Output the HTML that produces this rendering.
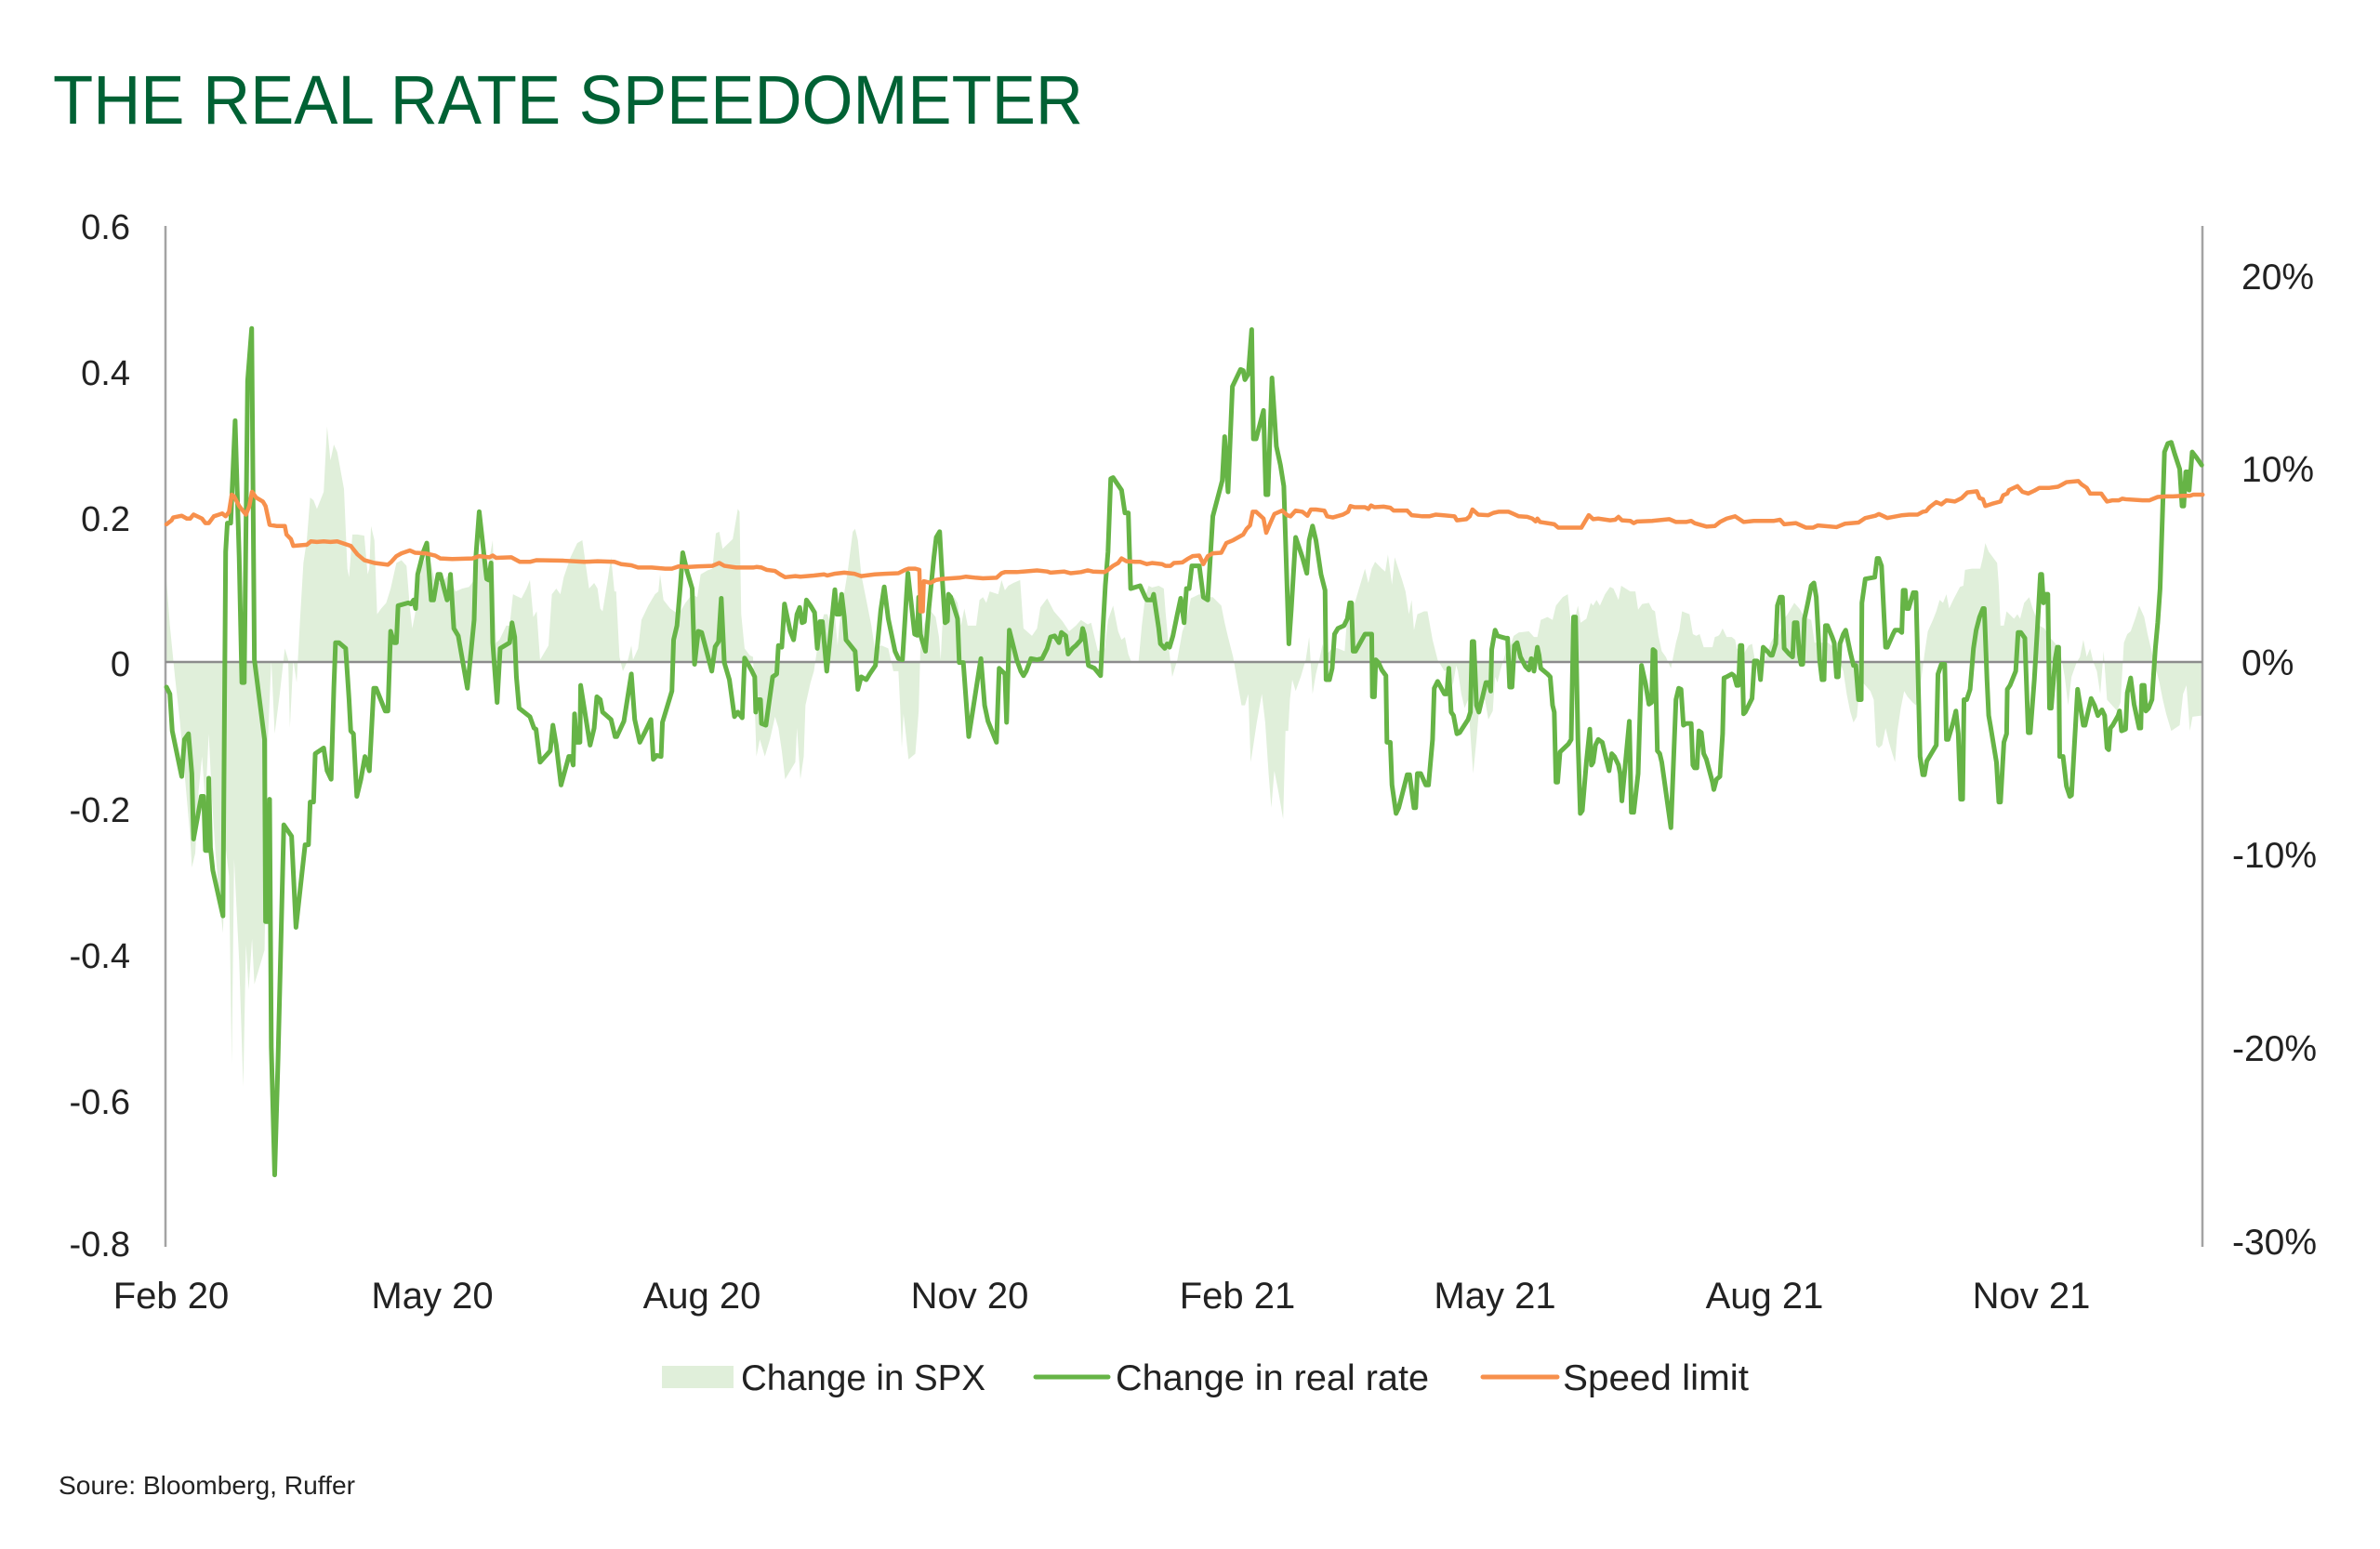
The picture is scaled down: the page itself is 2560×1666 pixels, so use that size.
<!DOCTYPE html>
<html>
<head>
<meta charset="utf-8">
<style>
html,body{margin:0;padding:0;background:#fff;}
svg{display:block;}
text{font-family:"Liberation Sans",Arial,sans-serif;}
</style>
</head>
<body>
<svg width="2560" height="1666" viewBox="0 0 2560 1666" xmlns="http://www.w3.org/2000/svg">
<rect x="0" y="0" width="2560" height="1666" fill="#ffffff"/>

<!-- Title -->
<text x="57" y="133" font-size="74" fill="#006134" textLength="1108" lengthAdjust="spacingAndGlyphs">THE REAL RATE SPEEDOMETER</text>

<!-- Data layer -->
<svg x="170" y="330" width="2250" height="960" viewBox="0 0 6187.5 1568" preserveAspectRatio="none" overflow="visible">
  <!-- Change in SPX area -->
  <path fill="#e0efda" stroke="none" d="M25,623 L25,480 35,560 50,650 65,730 80,830 95,930 100,985 110,960 120,850 130,790 140,870 150,750 160,870 170,960 185,1060 192,1100 200,950 210,1000 218,1330 225,970 240,1150 252,1370 260,1120 268,1200 278,1110 285,1190 300,1160 315,1130 325,760 335,620 345,750 360,680 375,600 385,620 390,740 400,620 410,660 420,550 430,450 440,410 450,335 460,340 470,355 490,325 500,210 510,270 520,242 530,255 550,320 560,460 565,475 575,400 590,400 610,402 620,470 625,460 630,385 640,410 648,540 660,530 675,520 688,495 705,450 720,445 735,455 745,530 752,565 760,540 780,455 800,430 820,485 840,485 860,470 880,500 900,495 920,492 935,480 945,440 960,430 975,460 990,410 1000,590 1010,585 1030,560 1040,560 1050,505 1060,508 1075,512 1090,495 1100,480 1110,545 1120,535 1130,620 1140,610 1155,595 1165,505 1178,495 1190,505 1200,475 1220,440 1240,415 1255,410 1275,495 1290,485 1300,495 1308,530 1315,535 1330,480 1340,440 1350,500 1355,500 1365,615 1375,640 1390,620 1400,595 1405,620 1420,600 1430,550 1450,525 1470,505 1480,500 1485,470 1495,515 1515,530 1540,540
  1560,520 1580,505 1595,510 1605,470 1625,463 1640,460 1650,398 1660,395 1670,425 1700,408 1715,355 1720,360 1725,540 1735,600 1750,612 1760,615 1765,700 1770,790 1780,760 1795,790 1810,760 1825,720 1835,740 1845,780 1855,830 1885,800 1890,740 1900,830 1910,790 1915,700 1930,660 1940,640 1950,600 1960,560 1970,540 1980,540 1990,560 2002,540 2010,595 2015,560 2025,520 2040,465 2055,395 2062,390 2070,410 2080,470 2095,515 2110,560 2120,600 2140,595 2160,600 2175,640 2190,640 2195,700 2200,775 2205,715 2210,740 2220,795 2240,785 2250,710 2255,600 2265,560 2280,530 2300,545 2310,580 2315,620 2320,560 2335,545 2355,510 2365,520 2375,560 2385,530 2395,560 2420,560 2430,515 2440,510 2450,520 2460,500 2485,505 2495,480 2505,498 2515,490 2530,485 2550,480 2560,565 2570,570 2585,578 2600,565 2610,528 2630,512 2650,535 2675,552 2695,570 2715,560 2730,550 2750,558 2760,555 2780,605 2800,600 2810,550 2825,525 2840,570 2850,585 2860,580 2870,610 2880,625 2900,625 2910,560 2920,510 2930,490 2940,493 2960,490 2975,495 2980,535 2990,600 3000,650 3015,620 3030,570 3040,555 3055,512 3080,505
  3100,510 3120,510 3145,525 3155,555 3165,580 3180,615 3190,650 3205,700 3215,700 3225,680 3232,800 3240,770 3250,730 3265,680 3275,730 3285,820 3293,880 3302,815 3315,855 3328,900 3335,745 3343,745 3348,690 3355,655 3365,675 3380,650 3395,620 3405,580 3415,680 3425,645 3435,620 3445,592 3450,610 3458,610 3475,598 3490,600 3510,605 3520,525 3530,520 3540,520 3550,500 3570,460 3580,485 3590,460 3600,448 3620,460 3630,465 3638,435 3650,488 3658,440 3680,480 3690,500 3700,540 3708,515 3715,568 3725,540 3745,535 3755,535 3770,585 3785,620 3795,630 3805,640 3820,635 3830,665 3840,630 3845,640 3850,660 3855,680 3865,705 3875,690 3890,820 3900,760 3910,690 3925,690 3935,725 3948,710 3955,650 3962,660 3970,640 3980,620 3990,600 4000,595 4010,578 4025,572 4055,570 4070,580 4080,580 4090,550 4110,545 4125,550 4135,525 4155,510 4170,505 4180,560 4192,545 4200,525 4208,555 4225,548 4238,520 4245,525 4255,515 4265,525 4280,505 4295,492 4305,495 4320,515 4328,490 4355,500 4370,500 4378,532 4390,522 4410,520 4420,532 4428,535 4438,578 4448,605 4460,615 4475,635 4480,620 4490,590 4500,568 4508,535 4530,540 4540,575 4550,578 4560,575 4572,598 4598,598 4605,580 4615,578 4620,575
  4628,565 4640,580 4655,580 4665,585 4670,600 4680,605 4690,610 4705,595 4715,592 4725,625 4740,635 4760,610 4770,590 4780,580 4795,575 4810,548 4820,540 4830,530 4840,520 4855,530 4870,545 4890,550 4900,590 4915,590 4940,590 4960,600 4975,625 4985,640 4995,680 5005,710 5015,730 5025,720 5035,655 5050,665 5065,675 5075,690 5082,770 5090,775 5100,770 5110,740 5120,765 5130,785 5138,800 5145,745 5155,705 5165,675 5175,685 5190,695 5200,700 5210,680 5225,610 5235,570 5250,550 5260,535 5270,515 5280,520 5290,505 5298,530 5310,515 5330,492 5340,490 5345,462 5365,460 5390,460 5398,440 5405,415 5415,430 5440,450 5445,490 5450,560 5460,560 5468,535 5490,548 5500,540 5508,548 5520,520 5535,510 5545,530 5565,560 5580,565 5595,580 5610,590 5625,600 5640,650 5650,700 5660,650 5675,625 5685,615 5695,585 5705,615 5715,600 5725,625 5735,640 5745,680 5755,605 5765,690 5780,700 5795,710 5805,695 5815,590 5825,575 5835,570 5850,545 5860,525 5875,545 5885,575 5895,600 5905,625 5920,660 5930,690 5940,715 5955,745 5980,735 5990,680 6000,665 6010,745 6018,720 6045,718 6045,623 Z"/>
</svg>

<!-- Axes -->
<line x1="178" y1="243" x2="178" y2="1341" stroke="#a3a3a3" stroke-width="2.5"/>
<line x1="2369" y1="243" x2="2369" y2="1341" stroke="#a3a3a3" stroke-width="2.5"/>
<line x1="178" y1="712" x2="2369" y2="712" stroke="#8c8c8c" stroke-width="2.5"/>

<svg x="170" y="330" width="2250" height="960" viewBox="0 0 6187.5 1568" preserveAspectRatio="none" overflow="visible">
  <!-- Change in real rate -->
  <path fill="none" stroke="#66b446" stroke-width="5" stroke-linejoin="round" stroke-linecap="round" vector-effect="non-scaling-stroke" d="M25,668 L35,680 42,745 70,825 78,760 90,750 100,820 105,935 128,860 135,860 140,955 148,955 150,828 155,950 162,990 192,1070 200,430 205,380 215,380 228,200 240,440 248,660 255,660 265,130 277,38 285,620 315,760 318,1080 325,1080 330,865 335,1300 345,1525 355,1320 372,910 395,930 408,1090 435,945 445,945 450,870 460,870 465,785 490,775 500,815 512,830 520,670 525,590 535,590 555,600 565,690 570,745 578,750 588,860 600,830 612,790 625,815 630,760 638,670 645,670 672,710 680,710 688,570 698,590 705,590 710,525 740,520 748,522 756,515 762,530 768,470 785,430 795,415 808,515 815,515 828,470 835,470 855,515 860,510 865,470 875,565 888,578 915,670 935,550 940,440 950,360 972,478 978,480 985,450 990,590 1003,695 1012,600 1040,590 1047,555 1055,580 1060,650 1068,705 1100,720 1112,740 1118,742 1130,800 1160,780 1168,735 1178,770 1192,840 1215,790 1222,790 1228,805 1232,715 1238,765 1248,765 1250,665 1278,770 1290,740 1298,685 1308,690 1315,712 1340,725 1352,755 1357,755 1378,728 1400,645 1410,725 1425,765 1442,745 1458,725 1465,795 1475,788 1488,790 1492,730 1520,675 1525,585 1535,560 1545,490
  1552,432 1565,465 1580,495 1587,628 1598,570 1608,572 1638,640 1648,597 1658,588 1666,512 1675,625 1690,655 1705,720 1715,712 1728,722 1735,617 1755,638 1765,650 1768,712 1775,690 1782,690 1785,732 1798,735 1818,650 1830,645 1835,595 1845,598 1853,522 1870,570 1880,585 1890,540 1898,528 1905,555 1912,553 1918,515 1930,525 1942,537 1950,600 1958,553 1965,553 1978,640 2002,497 2008,540 2016,540 2022,505 2030,545 2035,585 2062,605 2070,672 2080,650 2095,655 2105,645 2122,630 2138,532 2148,492 2160,548 2180,605 2190,618 2202,620 2218,468 2238,575 2246,577 2250,510 2255,575 2262,590 2270,605 2280,530 2295,440 2302,405 2312,395 2320,480 2328,555 2335,552 2338,505 2345,510 2365,548 2370,625 2382,625 2398,755 2415,690 2428,640 2434,618 2445,700 2455,728 2480,765 2488,635 2505,645 2510,730 2518,568 2540,620 2552,640 2560,648 2568,640 2582,618 2600,620 2615,618 2630,600 2640,580 2652,578 2665,590 2672,572 2685,578 2692,610 2705,600 2715,595 2730,585 2735,565 2740,575 2752,630 2770,635 2788,648 2795,565 2802,490 2810,430 2818,302 2825,300 2850,322 2860,362 2870,362 2877,495 2905,490 2920,510 2925,515 2940,515 2945,505 2960,565 2965,592 2978,600 2985,592 2992,598 3002,578 3015,540 3025,512 3035,555 3042,495 3050,495 3058,455
  3080,455 3092,510 3105,515 3120,368 3148,305 3155,228 3165,325 3178,140 3202,110 3210,112 3215,128 3225,118 3235,40 3240,232 3248,232 3270,182 3277,330 3283,330 3295,125 3308,245 3320,278 3330,315 3345,592 3352,532 3365,405 3385,440 3398,468 3405,410 3415,385 3425,410 3440,470 3452,498 3455,655 3465,655 3473,635 3480,575 3490,565 3508,560 3518,548 3525,520 3530,520 3535,605 3542,605 3570,575 3590,575 3592,685 3598,685 3602,620 3610,625 3620,638 3632,648 3635,765 3645,765 3650,840 3662,890 3670,880 3695,822 3702,822 3715,880 3720,880 3725,820 3735,820 3750,840 3758,840 3770,760 3775,670 3785,658 3805,680 3812,680 3818,635 3825,712 3832,718 3842,750 3850,748 3875,725 3882,712 3887,588 3892,588 3900,700 3907,712 3928,660 3937,660 3942,675 3945,602 3955,568 3962,578 3985,582 3992,582 3998,668 4005,668 4012,595 4020,590 4030,615 4045,632 4055,638 4062,618 4067,622 4070,640 4080,598 4085,612 4090,635 4110,645 4118,650 4125,700 4130,712 4135,835 4140,835 4147,782 4172,768 4180,760 4187,545 4193,545 4200,760 4207,890 4213,885 4225,800 4235,742 4240,805 4245,800 4252,770 4260,760 4272,765 4282,790 4292,815 4300,785 4308,790 4320,805 4325,820 4330,868 4352,728 4358,888 4365,888 4378,820 4388,630 4400,662 4410,698 4418,695 4422,602 4428,605 4435,780 4442,785 4448,800 4475,915 4490,690 4498,670 4505,672 4512,735 4520,732 4535,732 4540,805 4545,810 4552,810 4558,745 4565,748 4572,785 4580,795 4598,835 4602,848 4610,830
  4620,825 4628,750 4632,652 4640,650 4655,645 4662,648 4670,665 4675,665 4680,595 4685,595 4690,715 4695,712 4715,688 4722,622 4730,622 4735,628 4740,655 4748,598 4760,605 4770,612 4775,612 4785,592 4790,525 4798,510 4805,510 4810,600 4825,610 4835,615 4840,555 4848,555 4855,610 4860,628 4865,628 4870,548 4880,520 4890,490 4898,485 4905,510 4915,620 4922,655 4928,655 4932,560 4938,560 4952,580 4958,590 4965,650 4970,650 4975,592 4985,575 4992,568 5005,605 5015,630 5022,630 5030,690 5038,690 5040,520 5050,478 5078,475 5085,442 5090,442 5098,455 5110,598 5115,598 5132,575 5138,568 5150,568 5158,572 5162,498 5168,498 5172,530 5178,530 5192,502 5200,502 5212,790 5220,822 5225,822 5232,798 5245,785 5260,770 5265,645 5275,628 5285,628 5290,760 5295,760 5310,730 5318,710 5325,750 5332,865 5338,865 5342,690 5350,690 5360,672 5370,600 5378,568 5388,545 5398,530 5402,530 5410,655 5415,718 5420,735 5438,800 5445,870 5450,870 5460,765 5468,750 5470,672 5478,665 5495,640 5502,572 5510,572 5522,582 5532,748 5538,748 5550,655 5560,555 5568,470 5572,470 5577,520 5585,505 5590,505 5595,705 5600,705 5612,618 5618,598 5622,598 5625,790 5635,790 5645,842 5655,860 5660,858 5678,672 5695,735 5700,735 5718,688 5728,700 5738,718 5750,708 5758,718 5765,775 5770,778 5775,740 5782,735 5798,718 5802,710 5808,745 5820,742 5825,678 5835,652 5845,698 5860,740 5865,740 5868,665 5875,665 5880,710 5888,705 5898,690 5908,600 5915,555 5922,495 5935,255 5945,240 5955,238 5965,258 5980,285 5987,350 5992,350 5998,290 6005,290 6008,322 6017,255 6030,265 6045,278"/>

  <!-- Speed limit -->
  <path fill="none" stroke="#f7904c" stroke-width="4.5" stroke-linejoin="round" stroke-linecap="round" vector-effect="non-scaling-stroke" d="M25,382 L40,375 45,370 70,367 85,372 95,372 105,365 130,372 140,380 150,380 165,368 180,365 190,363 200,368 210,360 218,330 225,333 240,350 260,365 270,350 278,325 290,335 310,342 318,350 330,383 350,385 375,385 380,400 393,408 400,420 440,418 452,412 470,413 490,412 510,413 530,412 570,420 590,435 610,445 640,450 680,453 690,448 705,438 720,433 745,428 760,432 790,433 820,437 835,442 870,443 930,442 950,438 980,440 990,437 1000,441 1045,440 1070,448 1100,448 1120,445 1200,446 1260,448 1300,447 1350,448 1370,452 1400,454 1420,458 1460,458 1500,460 1520,460 1540,456
  1570,457 1600,456 1640,455 1660,450 1675,455 1710,458 1760,458 1770,457 1785,458 1800,462 1825,464 1840,470 1855,475 1885,473 1900,474 1940,472 1970,470 1980,472 2000,469 2030,467 2060,469 2080,473 2120,470 2150,469 2190,468 2210,462 2220,460 2240,460 2252,462 2255,535 2262,535 2265,482 2285,485 2300,480 2320,478 2370,476 2390,474 2420,476 2440,477 2480,476 2495,468 2505,466 2540,466 2580,464 2600,463 2630,465 2640,467 2680,465 2700,468 2730,466 2750,463 2765,465 2800,466 2810,462 2825,455 2840,450 2850,442 2865,447 2890,448 2905,448 2925,452 2940,450 2970,452 2980,455 2995,455 3005,450 3030,449 3045,443 3060,438
  3080,437 3092,452 3105,438 3120,433 3145,432 3160,415 3180,410 3210,400 3220,390 3230,384 3238,360 3248,360 3270,372 3278,397 3290,380 3302,364 3325,358 3340,366 3350,368 3365,358 3385,360 3400,367 3410,356 3425,356 3450,358 3458,368 3475,370 3505,365 3520,360 3527,350 3540,352 3570,352 3580,355 3588,349 3598,352 3625,351 3645,353 3655,358 3695,358 3708,366 3740,368 3760,368 3780,365 3800,366 3835,368 3842,375 3870,373 3880,368 3888,356 3905,365 3935,366 3950,362 3965,360 3995,360 4010,364 4025,368 4050,369 4065,372 4075,377 4080,372 4088,378 4120,381 4130,382 4142,388 4210,388 4232,366 4245,373 4260,372 4295,375 4310,374 4320,369 4330,375 4355,376 4365,380 4375,377 4420,376 4470,373 4490,378 4520,378 4535,376 4545,380 4580,386 4605,385 4620,378
  4640,372 4665,368 4690,378 4720,376 4780,376 4798,374 4810,382 4845,380 4875,388 4895,388 4910,384 4965,387 4990,381 5030,379 5050,371 5080,367 5090,364 5105,368 5115,371 5160,366 5180,365 5205,365 5220,360 5230,359 5240,352 5260,343 5275,347 5290,340 5315,342 5335,336 5352,326 5380,324 5388,336 5398,338 5405,350 5425,346 5450,342 5458,331 5470,328 5475,322 5500,315 5515,325 5532,328 5550,323 5565,318 5595,318 5620,316 5630,313 5645,308 5680,306 5690,312 5705,318 5715,328 5748,328 5755,334 5765,342 5780,340 5800,340 5810,337 5820,338 5870,340 5890,340 5915,334 5940,333 5960,333 5990,332 6010,332 6020,330 6048,330"/>
</svg>

<!-- Left axis labels -->
<g font-size="38" fill="#222" text-anchor="end">
  <text x="140" y="257">0.6</text>
  <text x="140" y="414">0.4</text>
  <text x="140" y="571">0.2</text>
  <text x="140" y="727">0</text>
  <text x="140" y="884">-0.2</text>
  <text x="140" y="1041">-0.4</text>
  <text x="140" y="1198">-0.6</text>
  <text x="140" y="1351">-0.8</text>
</g>

<!-- Right axis labels -->
<g font-size="39" fill="#222">
  <text x="2411" y="311">20%</text>
  <text x="2411" y="518">10%</text>
  <text x="2411" y="726">0%</text>
  <text x="2401" y="933">-10%</text>
  <text x="2401" y="1141">-20%</text>
  <text x="2401" y="1349">-30%</text>
</g>

<!-- X axis labels -->
<g font-size="40" fill="#222" text-anchor="middle">
  <text x="184" y="1407">Feb 20</text>
  <text x="465" y="1407">May 20</text>
  <text x="755" y="1407">Aug 20</text>
  <text x="1043" y="1407">Nov 20</text>
  <text x="1331" y="1407">Feb 21</text>
  <text x="1608" y="1407">May 21</text>
  <text x="1898" y="1407">Aug 21</text>
  <text x="2185" y="1407">Nov 21</text>
</g>

<!-- Legend -->
<rect x="712" y="1469" width="77" height="24" fill="#e0efda"/>
<text x="797" y="1495" font-size="39" fill="#222" textLength="263" lengthAdjust="spacingAndGlyphs">Change in SPX</text>
<line x1="1114" y1="1481" x2="1192" y2="1481" stroke="#66b446" stroke-width="5" stroke-linecap="round"/>
<text x="1200" y="1495" font-size="39" fill="#222" textLength="337" lengthAdjust="spacingAndGlyphs">Change in real rate</text>
<line x1="1595" y1="1481" x2="1675" y2="1481" stroke="#f7904c" stroke-width="5" stroke-linecap="round"/>
<text x="1681" y="1495" font-size="39" fill="#222" textLength="200" lengthAdjust="spacingAndGlyphs">Speed limit</text>

<!-- Source -->
<text x="63" y="1607" font-size="28" fill="#222" textLength="319" lengthAdjust="spacingAndGlyphs">Soure: Bloomberg, Ruffer</text>
</svg>
</body>
</html>
